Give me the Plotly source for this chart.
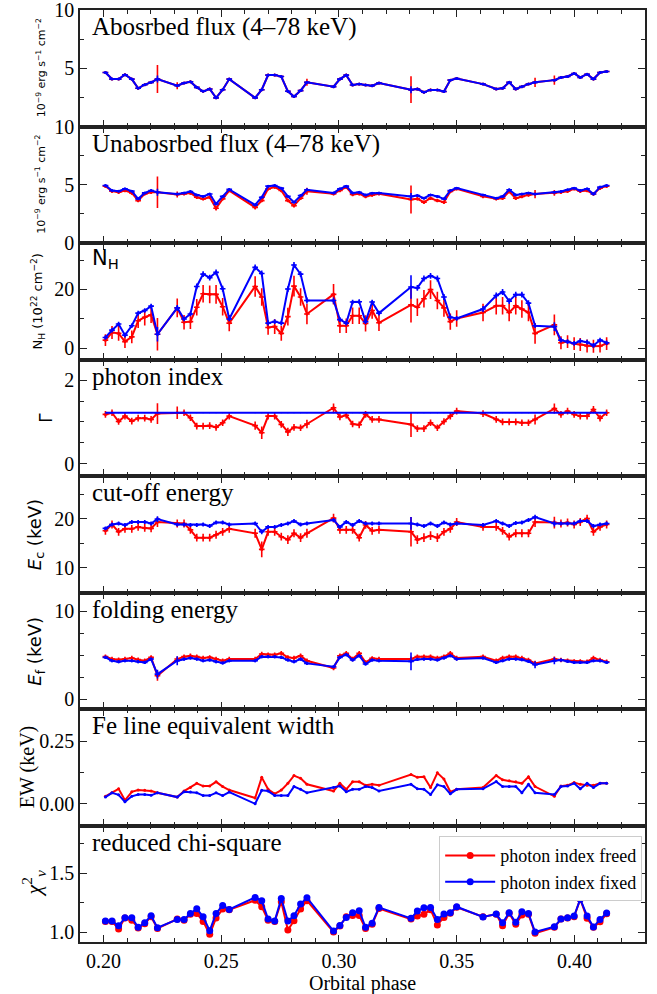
import plotly.graph_objects as go
from plotly.subplots import make_subplots

# ---------------- data ----------------
phase = [0.2008, 0.2036, 0.2064, 0.2091, 0.2120, 0.2147, 0.2175, 0.2202, 0.2229,
         0.2313, 0.2342, 0.2369, 0.2396, 0.2423, 0.2451, 0.2478, 0.2506, 0.2534,
         0.2644, 0.2672, 0.2699, 0.2727, 0.2755, 0.2783, 0.2809, 0.2837, 0.2864,
         0.2977, 0.3004, 0.3031, 0.3058, 0.3086, 0.3113, 0.3141, 0.3170,
         0.3306, 0.3333, 0.3361, 0.3389, 0.3418, 0.3446, 0.3473, 0.3500,
         0.3612, 0.3668, 0.3695, 0.3723, 0.3751, 0.3777, 0.3805, 0.3833,
         0.3915, 0.3943, 0.3971, 0.3999, 0.4025, 0.4054, 0.4081, 0.4109, 0.4137]

abs_flux_fixed = [4.63, 4.07, 4.07, 4.44, 4.07, 3.28, 3.59, 3.79, 4.07,
                  3.50, 3.73, 3.84, 3.36, 3.02, 3.22, 2.46, 3.16, 4.07,
                  2.46, 3.16, 4.41, 4.41, 4.29, 3.02, 2.57, 3.08, 3.79,
                  3.42, 4.07, 4.41, 3.56, 3.64, 3.56, 3.50, 3.73,
                  3.16, 3.22, 2.94, 3.14, 3.14, 3.00, 3.98, 4.12,
                  3.64, 3.22, 3.28, 3.79, 3.22, 3.42, 3.64, 3.79,
                  3.98, 4.21, 4.29, 4.55, 4.21, 4.49, 4.07, 4.63, 4.72]
abs_flux_freed = [4.63, 4.07, 4.07, 4.44, 4.07, 3.28, 3.59, 3.79, 4.07,
                  3.50, 3.73, 3.84, 3.36, 3.02, 3.22, 2.46, 3.16, 4.07,
                  2.46, 3.16, 4.41, 4.41, 4.29, 3.02, 2.57, 3.08, 3.79,
                  3.42, 4.07, 4.41, 3.56, 3.64, 3.56, 3.50, 3.73,
                  3.16, 3.22, 2.94, 3.14, 3.14, 3.00, 3.98, 4.12,
                  3.64, 3.22, 3.28, 3.79, 3.22, 3.42, 3.64, 3.79,
                  3.98, 4.21, 4.29, 4.55, 4.21, 4.49, 4.07, 4.63, 4.72]
abs_err_freed = [0.12, 0.10, 0.10, 0.10, 0.10, 0.10, 0.10, 0.10, 1.20,
                 0.30, 0.10, 0.12, 0.12, 0.10, 0.12, 0.10, 0.12, 0.10,
                 0.10, 0.12, 0.12, 0.12, 0.12, 0.12, 0.12, 0.12, 0.30,
                 0.10, 0.10, 0.12, 0.10, 0.10, 0.10, 0.10, 0.10,
                 1.15, 0.12, 0.12, 0.12, 0.10, 0.10, 0.10, 0.10,
                 0.10, 0.10, 0.10, 0.12, 0.10, 0.10, 0.10, 0.40,
                 0.40, 0.10, 0.10, 0.12, 0.10, 0.10, 0.10, 0.10, 0.12]
abs_err_fixed = [0.08, 0.06, 0.06, 0.06, 0.06, 0.06, 0.06, 0.06, 0.30,
                 0.08, 0.06, 0.06, 0.06, 0.06, 0.06, 0.06, 0.06, 0.06,
                 0.06, 0.06, 0.06, 0.06, 0.06, 0.06, 0.06, 0.06, 0.10,
                 0.06, 0.06, 0.06, 0.06, 0.06, 0.06, 0.06, 0.06,
                 0.30, 0.06, 0.06, 0.06, 0.06, 0.06, 0.06, 0.06,
                 0.06, 0.06, 0.06, 0.06, 0.06, 0.06, 0.06, 0.10,
                 0.10, 0.06, 0.06, 0.06, 0.06, 0.06, 0.06, 0.06, 0.06]

unabs_flux_fixed = [4.94, 4.50, 4.45, 4.65, 4.45, 3.79, 4.30, 4.50, 4.36,
                    4.20, 4.30, 4.42, 4.13, 4.00, 4.20, 3.35, 4.00, 4.60,
                    3.27, 3.93, 4.88, 4.94, 4.71, 4.00, 3.50, 4.08, 4.57,
                    4.30, 4.65, 4.88, 4.30, 4.36, 4.13, 4.28, 4.30,
                    4.00, 4.08, 3.84, 4.13, 4.00, 3.79, 4.50, 4.71,
                    4.13, 3.84, 4.00, 4.57, 4.13, 4.20, 4.30, 4.20,
                    4.36, 4.42, 4.57, 4.71, 4.50, 4.65, 4.20, 4.80, 4.94]
unabs_flux_freed = [4.88, 4.45, 4.36, 4.50, 4.30, 3.64, 4.22, 4.36, 4.36,
                    4.16, 4.22, 4.30, 3.93, 3.79, 3.93, 2.98, 3.79, 4.50,
                    3.06, 3.64, 4.65, 4.80, 4.50, 3.64, 3.20, 3.84, 4.45,
                    4.22, 4.50, 4.80, 4.16, 4.22, 4.00, 4.13, 4.22,
                    3.73, 3.79, 3.50, 3.84, 3.64, 3.50, 4.42, 4.65,
                    4.00, 3.79, 3.84, 4.42, 3.84, 4.00, 4.13, 4.20,
                    4.30, 4.36, 4.45, 4.65, 4.45, 4.50, 4.20, 4.71, 4.88]
unabs_err_freed = [0.15, 0.15, 0.15, 0.15, 0.15, 0.15, 0.15, 0.15, 1.35,
                   0.25, 0.15, 0.15, 0.15, 0.15, 0.15, 0.18, 0.15, 0.15,
                   0.18, 0.15, 0.15, 0.15, 0.15, 0.15, 0.15, 0.15, 0.30,
                   0.15, 0.15, 0.15, 0.15, 0.15, 0.15, 0.15, 0.15,
                   1.20, 0.15, 0.15, 0.15, 0.15, 0.15, 0.15, 0.15,
                   0.15, 0.15, 0.15, 0.15, 0.15, 0.15, 0.15, 0.35,
                   0.25, 0.15, 0.15, 0.15, 0.15, 0.15, 0.15, 0.15, 0.15]
unabs_err_fixed = [0.08, 0.08, 0.08, 0.08, 0.08, 0.08, 0.08, 0.08, 0.30,
                   0.10, 0.08, 0.08, 0.08, 0.08, 0.08, 0.08, 0.08, 0.08,
                   0.08, 0.08, 0.08, 0.08, 0.08, 0.08, 0.08, 0.08, 0.10,
                   0.08, 0.08, 0.08, 0.08, 0.08, 0.08, 0.08, 0.08,
                   0.30, 0.08, 0.08, 0.08, 0.08, 0.08, 0.08, 0.08,
                   0.08, 0.08, 0.08, 0.08, 0.08, 0.08, 0.08, 0.10,
                   0.10, 0.08, 0.08, 0.08, 0.08, 0.08, 0.08, 0.08, 0.08]

nh_fixed = [3.6, 6.1, 8.2, 4.4, 7.6, 11.9, 12.8, 14.3, 4.7,
            13.7, 9.9, 11.6, 21.0, 25.2, 24.0, 25.8, 20.2, 9.9,
            27.5, 25.4, 8.5, 9.0, 8.5, 20.1, 28.3, 25.2, 16.2,
            16.2, 9.7, 8.5, 15.7, 15.8, 9.0, 15.7, 11.9,
            20.8, 20.5, 23.7, 24.6, 23.7, 17.4, 10.5, 10.1,
            13.3, 17.9, 19.1, 16.0, 18.2, 18.2, 15.3, 7.6,
            7.3, 2.7, 2.2, 1.6, 2.4, 2.0, 0.9, 2.7, 1.8]
nh_freed = [2.7, 5.3, 5.0, 2.2, 3.8, 9.3, 10.5, 11.3, 4.7,
            13.7, 8.8, 9.0, 13.9, 18.5, 18.3, 18.3, 14.1, 8.5,
            21.0, 17.4, 7.0, 7.3, 5.0, 10.7, 21.1, 17.4, 11.6,
            18.3, 7.6, 7.6, 11.0, 11.0, 8.4, 12.8, 8.6,
            14.7, 13.9, 16.8, 19.9, 16.2, 13.7, 9.0, 10.1,
            12.1, 14.4, 14.4, 12.1, 14.4, 13.3, 12.1, 5.0,
            7.9, 1.8, 2.2, 1.5, 1.2, 0.7, 0.6, 0.7, 1.5]
nh_err_freed = [2.0, 2.2, 2.5, 2.2, 2.2, 2.5, 2.8, 2.8, 5.5,
                3.2, 2.5, 2.5, 2.8, 3.0, 3.0, 3.2, 3.0, 2.8,
                3.5, 3.0, 2.5, 2.5, 2.5, 3.0, 3.5, 3.0, 3.5,
                3.5, 2.5, 2.5, 2.8, 2.8, 2.8, 2.8, 2.8,
                6.0, 3.0, 3.0, 3.2, 3.0, 3.0, 2.8, 2.8,
                3.0, 3.0, 3.0, 3.0, 3.0, 3.0, 3.0, 3.5,
                3.5, 2.2, 2.2, 2.2, 2.2, 2.2, 2.2, 2.2, 2.2]
nh_err_fixed = [0.8, 0.8, 0.8, 0.8, 0.8, 0.8, 0.8, 0.8, 2.5,
                1.0, 0.8, 0.8, 1.0, 1.0, 1.0, 1.0, 1.0, 0.8,
                1.0, 1.0, 0.8, 0.8, 0.8, 1.0, 1.0, 1.0, 1.0,
                1.0, 0.8, 0.8, 0.8, 0.8, 0.8, 0.8, 0.8,
                4.0, 1.0, 1.0, 1.0, 1.0, 1.0, 0.8, 0.8,
                1.0, 1.0, 1.0, 1.0, 1.0, 1.0, 1.0, 0.8,
                1.5, 0.8, 0.8, 0.8, 0.8, 0.8, 0.8, 0.8, 0.8]

gamma_fixed = [1.22, 1.22, 1.22, 1.22, 1.22, 1.22, 1.22, 1.22, 1.22,
               1.22, 1.22, 1.22, 1.22, 1.22, 1.22, 1.22, 1.22, 1.22,
               1.22, 1.22, 1.22, 1.22, 1.22, 1.22, 1.22, 1.22, 1.22,
               1.22, 1.22, 1.22, 1.22, 1.22, 1.22, 1.22, 1.22,
               1.22, 1.22, 1.22, 1.22, 1.22, 1.22, 1.22, 1.22,
               1.22, 1.22, 1.22, 1.22, 1.22, 1.22, 1.22, 1.22,
               1.22, 1.22, 1.22, 1.22, 1.22, 1.22, 1.22, 1.22, 1.22]
gamma_freed = [1.18, 1.22, 1.01, 1.14, 1.02, 1.09, 1.09, 1.06, 1.20,
               1.22, 1.22, 1.10, 0.90, 0.90, 0.91, 0.87, 0.98, 1.14,
               0.91, 0.74, 1.14, 1.14, 0.94, 0.76, 0.87, 0.86, 0.95,
               1.34, 1.12, 1.16, 0.95, 0.93, 1.18, 1.06, 1.06,
               0.94, 0.84, 0.84, 0.98, 0.86, 1.01, 1.14, 1.26,
               1.20, 1.06, 1.00, 1.00, 1.00, 0.98, 0.98, 1.06,
               1.32, 1.18, 1.26, 1.18, 1.14, 1.14, 1.30, 1.09, 1.22]
gamma_err_freed = [0.08, 0.08, 0.08, 0.08, 0.08, 0.08, 0.08, 0.08, 0.25,
                   0.15, 0.08, 0.08, 0.08, 0.08, 0.08, 0.08, 0.08, 0.08,
                   0.10, 0.15, 0.08, 0.08, 0.08, 0.10, 0.08, 0.08, 0.10,
                   0.10, 0.08, 0.08, 0.08, 0.08, 0.08, 0.08, 0.08,
                   0.30, 0.08, 0.08, 0.08, 0.08, 0.08, 0.08, 0.08,
                   0.08, 0.08, 0.08, 0.08, 0.08, 0.08, 0.08, 0.12,
                   0.12, 0.08, 0.08, 0.08, 0.08, 0.08, 0.08, 0.08, 0.08]

ec_fixed = [18.0, 18.8, 19.0, 18.7, 19.3, 19.3, 19.3, 19.0, 19.9,
            18.8, 18.8, 18.7, 18.7, 18.8, 18.5, 19.2, 19.2, 18.8,
            19.0, 17.3, 18.3, 18.3, 18.7, 19.0, 19.5, 18.8, 19.0,
            19.7, 18.3, 19.3, 18.7, 19.5, 19.0, 19.0, 19.0,
            19.0, 18.8, 18.5, 19.0, 18.5, 19.2, 18.8, 19.0,
            18.7, 19.5, 19.0, 18.5, 19.1, 19.2, 19.7, 20.3,
            19.0, 19.0, 19.0, 19.0, 19.5, 19.5, 18.5, 18.8, 19.0]
ec_freed = [17.5, 18.8, 17.3, 17.9, 17.9, 18.3, 18.1, 18.0, 19.3,
            19.0, 19.0, 17.7, 16.1, 16.1, 16.1, 16.7, 17.3, 17.9,
            17.0, 13.7, 17.3, 17.3, 16.3, 15.7, 17.0, 16.1, 17.0,
            20.1, 17.7, 17.7, 17.7, 16.1, 18.7, 17.5, 17.7,
            17.3, 15.7, 16.1, 16.5, 16.1, 17.3, 17.9, 19.3,
            18.3, 18.3, 17.5, 16.3, 17.0, 17.0, 17.0, 19.3,
            19.2, 19.0, 19.2, 18.8, 19.3, 20.0, 17.3, 18.3, 18.8]
ec_err_freed = [0.8, 0.8, 0.8, 0.8, 0.8, 0.8, 0.8, 0.8, 1.0,
                0.8, 0.8, 0.8, 0.8, 0.8, 0.8, 0.8, 0.8, 0.8,
                0.9, 1.6, 0.8, 0.8, 0.8, 0.9, 0.8, 0.9, 0.9,
                0.9, 0.8, 0.8, 0.8, 0.8, 0.8, 0.8, 0.8,
                3.0, 0.9, 0.9, 0.9, 0.9, 0.8, 0.8, 0.8,
                0.8, 0.8, 0.8, 0.8, 0.8, 0.8, 0.8, 1.0,
                1.2, 0.8, 0.8, 0.8, 0.8, 0.8, 0.8, 0.8, 0.8]
ec_err_fixed = [0.4, 0.4, 0.4, 0.4, 0.4, 0.4, 0.4, 0.4, 0.6,
                0.4, 0.4, 0.4, 0.4, 0.4, 0.4, 0.4, 0.4, 0.4,
                0.4, 0.5, 0.4, 0.4, 0.4, 0.4, 0.4, 0.4, 0.4,
                0.4, 0.4, 0.4, 0.4, 0.4, 0.4, 0.4, 0.4,
                1.3, 0.4, 0.4, 0.4, 0.4, 0.4, 0.4, 0.4,
                0.4, 0.4, 0.4, 0.4, 0.4, 0.4, 0.4, 0.5,
                0.6, 0.4, 0.4, 0.4, 0.4, 0.4, 0.4, 0.4, 0.4]

ef_fixed = [4.75, 4.37, 4.26, 4.37, 4.37, 4.26, 4.18, 4.56, 2.85,
            4.37, 4.56, 4.68, 4.56, 4.37, 4.45, 4.26, 4.11, 4.37,
            4.37, 4.83, 4.83, 4.83, 4.75, 4.45, 4.26, 4.56, 4.07,
            3.69, 4.75, 5.06, 4.45, 4.94, 4.00, 4.45, 4.37,
            4.30, 4.52, 4.56, 4.56, 4.45, 4.68, 4.94, 4.56,
            4.68, 4.18, 4.37, 4.56, 4.56, 4.49, 4.30, 3.92,
            4.37, 4.45, 4.30, 4.18, 4.18, 4.18, 4.37, 4.37, 4.18]
ef_freed = [4.83, 4.56, 4.49, 4.56, 4.68, 4.49, 4.37, 4.75, 2.66,
            4.56, 4.83, 4.94, 4.83, 4.68, 4.75, 4.56, 4.37, 4.56,
            4.56, 5.13, 5.06, 5.06, 5.21, 4.75, 4.68, 4.94, 4.37,
            3.54, 4.94, 5.21, 4.56, 5.21, 4.18, 4.64, 4.56,
            4.56, 4.83, 4.83, 4.83, 4.68, 4.83, 5.21, 4.68,
            4.83, 4.37, 4.68, 4.83, 4.83, 4.68, 4.45, 4.07,
            4.56, 4.45, 4.37, 4.30, 4.30, 4.26, 4.68, 4.45, 4.26]
ef_err_freed = [0.25, 0.25, 0.25, 0.25, 0.25, 0.25, 0.25, 0.25, 0.55,
                0.30, 0.25, 0.25, 0.25, 0.25, 0.25, 0.25, 0.25, 0.25,
                0.25, 0.25, 0.25, 0.25, 0.25, 0.25, 0.25, 0.25, 0.25,
                0.25, 0.25, 0.25, 0.25, 0.25, 0.25, 0.25, 0.25,
                0.30, 0.25, 0.25, 0.25, 0.25, 0.25, 0.25, 0.25,
                0.25, 0.25, 0.25, 0.25, 0.25, 0.25, 0.25, 0.30,
                0.30, 0.25, 0.25, 0.25, 0.25, 0.25, 0.25, 0.25, 0.25]
ef_err_fixed = [0.18, 0.18, 0.18, 0.18, 0.18, 0.18, 0.18, 0.18, 0.50,
                0.50, 0.18, 0.18, 0.18, 0.18, 0.18, 0.18, 0.18, 0.18,
                0.18, 0.18, 0.18, 0.18, 0.18, 0.18, 0.18, 0.18, 0.18,
                0.18, 0.18, 0.18, 0.18, 0.18, 0.18, 0.18, 0.18,
                1.00, 0.18, 0.18, 0.18, 0.18, 0.18, 0.18, 0.18,
                0.18, 0.18, 0.18, 0.18, 0.18, 0.18, 0.18, 0.40,
                0.40, 0.18, 0.18, 0.18, 0.18, 0.18, 0.18, 0.18, 0.18]

ew_fixed = [0.027, 0.044, 0.036, 0.008, 0.030, 0.037, 0.037, 0.034, 0.044,
            0.027, 0.048, 0.047, 0.044, 0.033, 0.033, 0.044, 0.033, 0.047,
            0.000, 0.054, 0.051, 0.033, 0.033, 0.033, 0.069, 0.058, 0.044,
            0.065, 0.071, 0.048, 0.058, 0.058, 0.069, 0.065, 0.051,
            0.078, 0.060, 0.058, 0.037, 0.076, 0.069, 0.040, 0.058,
            0.060, 0.089, 0.069, 0.069, 0.069, 0.044, 0.078, 0.044,
            0.037, 0.069, 0.071, 0.082, 0.060, 0.082, 0.065, 0.082, 0.082]
ew_freed = [0.030, 0.044, 0.060, 0.014, 0.048, 0.055, 0.054, 0.051, 0.044,
            0.027, 0.051, 0.065, 0.082, 0.071, 0.071, 0.088, 0.069, 0.055,
            0.023, 0.106, 0.058, 0.040, 0.055, 0.082, 0.113, 0.102, 0.078,
            0.051, 0.082, 0.058, 0.088, 0.088, 0.074, 0.078, 0.074,
            0.117, 0.106, 0.108, 0.065, 0.124, 0.099, 0.048, 0.058,
            0.065, 0.113, 0.096, 0.092, 0.088, 0.082, 0.108, 0.069,
            0.030, 0.071, 0.074, 0.085, 0.078, 0.074, 0.074, 0.082, 0.082]

chi_fixed = [1.093, 1.093, 1.053, 1.121, 1.121, 1.040, 1.079, 1.138, 1.037,
             1.107, 1.107, 1.158, 1.198, 1.130, 1.011, 1.158, 1.226, 1.192,
             1.294, 1.266, 1.110, 1.093, 1.285, 1.093, 1.138, 1.237, 1.291,
             1.008, 1.056, 1.124, 1.164, 1.181, 1.040, 1.075, 1.209,
             1.116, 1.178, 1.206, 1.209, 1.107, 1.152, 1.164, 1.215,
             1.127, 1.152, 1.079, 1.164, 1.082, 1.172, 1.158, 1.000,
             1.045, 1.110, 1.121, 1.136, 1.280, 1.136, 1.042, 1.107, 1.161]
chi_freed = [1.090, 1.090, 1.025, 1.120, 1.100, 1.035, 1.070, 1.130, 1.030,
             1.110, 1.100, 1.150, 1.158, 1.090, 0.980, 1.120, 1.195, 1.190,
             1.270, 1.215, 1.100, 1.090, 1.257, 1.017, 1.096, 1.195, 1.266,
             1.000, 1.050, 1.130, 1.140, 1.140, 1.030, 1.065, 1.200,
             1.110, 1.136, 1.150, 1.190, 1.060, 1.124, 1.160, 1.210,
             1.130, 1.150, 1.053, 1.160, 1.065, 1.144, 1.150, 0.990,
             1.040, 1.110, 1.120, 1.130, 1.280, 1.116, 1.040, 1.087, 1.155]

RED = "#ff0000"
BLUE = "#0000ff"
SERIF = "'Liberation Serif', 'Times New Roman', 'DejaVu Serif', serif"
SANS = "'DejaVu Sans', sans-serif"

panels = [
    (abs_flux_freed, abs_flux_fixed, abs_err_freed, abs_err_fixed, [0, 10], [5, 10], ["5", "10"], [2.5, 7.5]),
    (unabs_flux_freed, unabs_flux_fixed, unabs_err_freed, unabs_err_fixed, [0, 10], [0, 5, 10], ["0", "5", "10"], [2.5, 7.5]),
    (nh_freed, nh_fixed, nh_err_freed, nh_err_fixed, [-3.9, 35.8], [0, 20], ["0", "20"], [10, 30]),
    (gamma_freed, gamma_fixed, gamma_err_freed, None, [-0.30, 2.50], [0, 2], ["0", "2"], [0.5, 1.0, 1.5]),
    (ec_freed, ec_fixed, ec_err_freed, ec_err_fixed, [4.9, 28.7], [10, 20], ["10", "20"], [5, 15, 25]),
    (ef_freed, ef_fixed, ef_err_freed, ef_err_fixed, [-1.1, 12.1], [0, 10], ["0", "10"], [2.5, 5, 7.5]),
    (ew_freed, ew_fixed, None, None, [-0.087, 0.38], [0.0, 0.25], ["0.00", "0.25"], [0.125, 0.375]),
    (chi_freed, chi_fixed, None, None, [0.915, 1.905], [1.0, 1.5], ["1.0", "1.5"], [1.25, 1.75]),
]

fig = make_subplots(rows=8, cols=1, shared_xaxes=True, vertical_spacing=0)

for i, (yr, yb, er, eb, rng, tv, tt, mn) in enumerate(panels):
    row = i + 1
    is_chi = (row == 8)
    for yy, ee, col, name in [(yr, er, RED, "photon index freed"), (yb, eb, BLUE, "photon index fixed")]:
        kw = {}
        if ee is not None:
            kw["error_y"] = dict(type="data", array=ee, color=col, thickness=1.6, width=0)
            kw["error_x"] = dict(type="constant", value=0.0012, color=col, thickness=1.6, width=0)
        if is_chi:
            mk = dict(color=col, size=7, symbol="circle")
        elif row == 4 and col == BLUE:
            mk = dict(color=col, size=1, symbol="circle")
        else:
            mk = dict(color=col, size=3, symbol="circle")
        fig.add_trace(go.Scatter(
            x=phase, y=yy, mode="lines+markers",
            line=dict(color=col, width=2),
            marker=mk,
            name=name, showlegend=is_chi, legendgroup=name,
            **kw), row=row, col=1)
    fig.update_yaxes(row=row, col=1, range=rng, tickmode="array", tickvals=tv, ticktext=tt,
                     showline=True, mirror="allticks", linecolor="#222", linewidth=1.5,
                     ticks="inside", ticklen=7, tickwidth=1.2, tickcolor="#222",
                     minor=dict(ticks="inside", ticklen=4, tickwidth=1, tickcolor="#222", tickmode="array", tickvals=mn),
                     showgrid=False, zeroline=False, automargin=False, ticklabeloverflow="allow",
                     tickfont=dict(family=SERIF, size=20, color="black"))

for row in range(1, 9):
    fig.update_xaxes(row=row, col=1, range=[0.190, 0.430], tick0=0.2, dtick=0.05, tickformat=".2f",
                     showline=True, mirror="allticks", linecolor="#222", linewidth=1.5,
                     ticks="inside", ticklen=7, tickwidth=1.2, tickcolor="#222",
                     minor=dict(ticks="inside", ticklen=4, tickwidth=1, tickcolor="#222", dtick=0.01, tick0=0.2),
                     showgrid=False, zeroline=False, showticklabels=(row == 8), automargin=False,
                     ticklabeloverflow="allow",
                     tickfont=dict(family=SERIF, size=20, color="black"))

# panel labels
labels = [
    ("Abosrbed flux (4–78 keV)", SERIF, 25),
    ("Unabosrbed flux (4–78 keV)", SERIF, 25),
    ("N<sub>H</sub>", SANS, 21),
    ("photon index", SERIF, 25),
    ("cut-off energy", SERIF, 25),
    ("folding energy", SERIF, 25),
    ("Fe line equivalent width", SERIF, 25),
    ("reduced chi-square", SERIF, 25),
]
ytitles = [
    ("10<sup>−9</sup> erg s<sup>−1</sup> cm<sup>−2</sup>", SANS, 11, -0.069),
    ("10<sup>−9</sup> erg s<sup>−1</sup> cm<sup>−2</sup>", SANS, 11, -0.069),
    ("N<sub>H</sub> (10<sup>22</sup> cm<sup>−2</sup>)", SANS, 13, -0.074),
    ("Γ", SANS, 17, -0.060),
    ("<i>E</i><sub>c</sub> (keV)", SANS, 18, -0.078),
    ("<i>E</i><sub>f</sub> (keV)", SANS, 18, -0.078),
    ("EW (keV)", SERIF, 20, -0.094),
    ("<i>χ</i><sup>2</sup><sub><i>ν</i></sub>", SERIF, 22, -0.082),
]
for i in range(8):
    yref = "y domain" if i == 0 else f"y{i+1} domain"
    t, f, s = labels[i]
    fig.add_annotation(text=t, xref="paper", yref=yref, x=0.018, y=0.99, xanchor="left", yanchor="top",
                       showarrow=False, font=dict(family=f, size=s, color="black"))
    t, f, s, xx = ytitles[i]
    fig.add_annotation(text=t, xref="paper", yref=yref, x=xx, y=0.5, xanchor="center", yanchor="middle",
                       textangle=-90, showarrow=False, font=dict(family=f, size=s, color="black"))

fig.add_annotation(text="Orbital phase", xref="paper", yref="paper", x=0.5, y=-0.0445,
                   xanchor="center", yanchor="middle", showarrow=False,
                   font=dict(family=SERIF, size=20, color="black"))

fig.update_layout(
    width=657, height=994,
    margin=dict(l=80, r=12, t=10, b=52, autoexpand=False),
    paper_bgcolor="white", plot_bgcolor="white",
    showlegend=True,
    legend=dict(x=0.995, xanchor="right", y=0.1135, yanchor="top", bgcolor="white",
                bordercolor="#cccccc", borderwidth=1, tracegroupgap=0, itemwidth=50,
                font=dict(family=SERIF, size=18, color="black")),
)

fig.write_html("out.html")
